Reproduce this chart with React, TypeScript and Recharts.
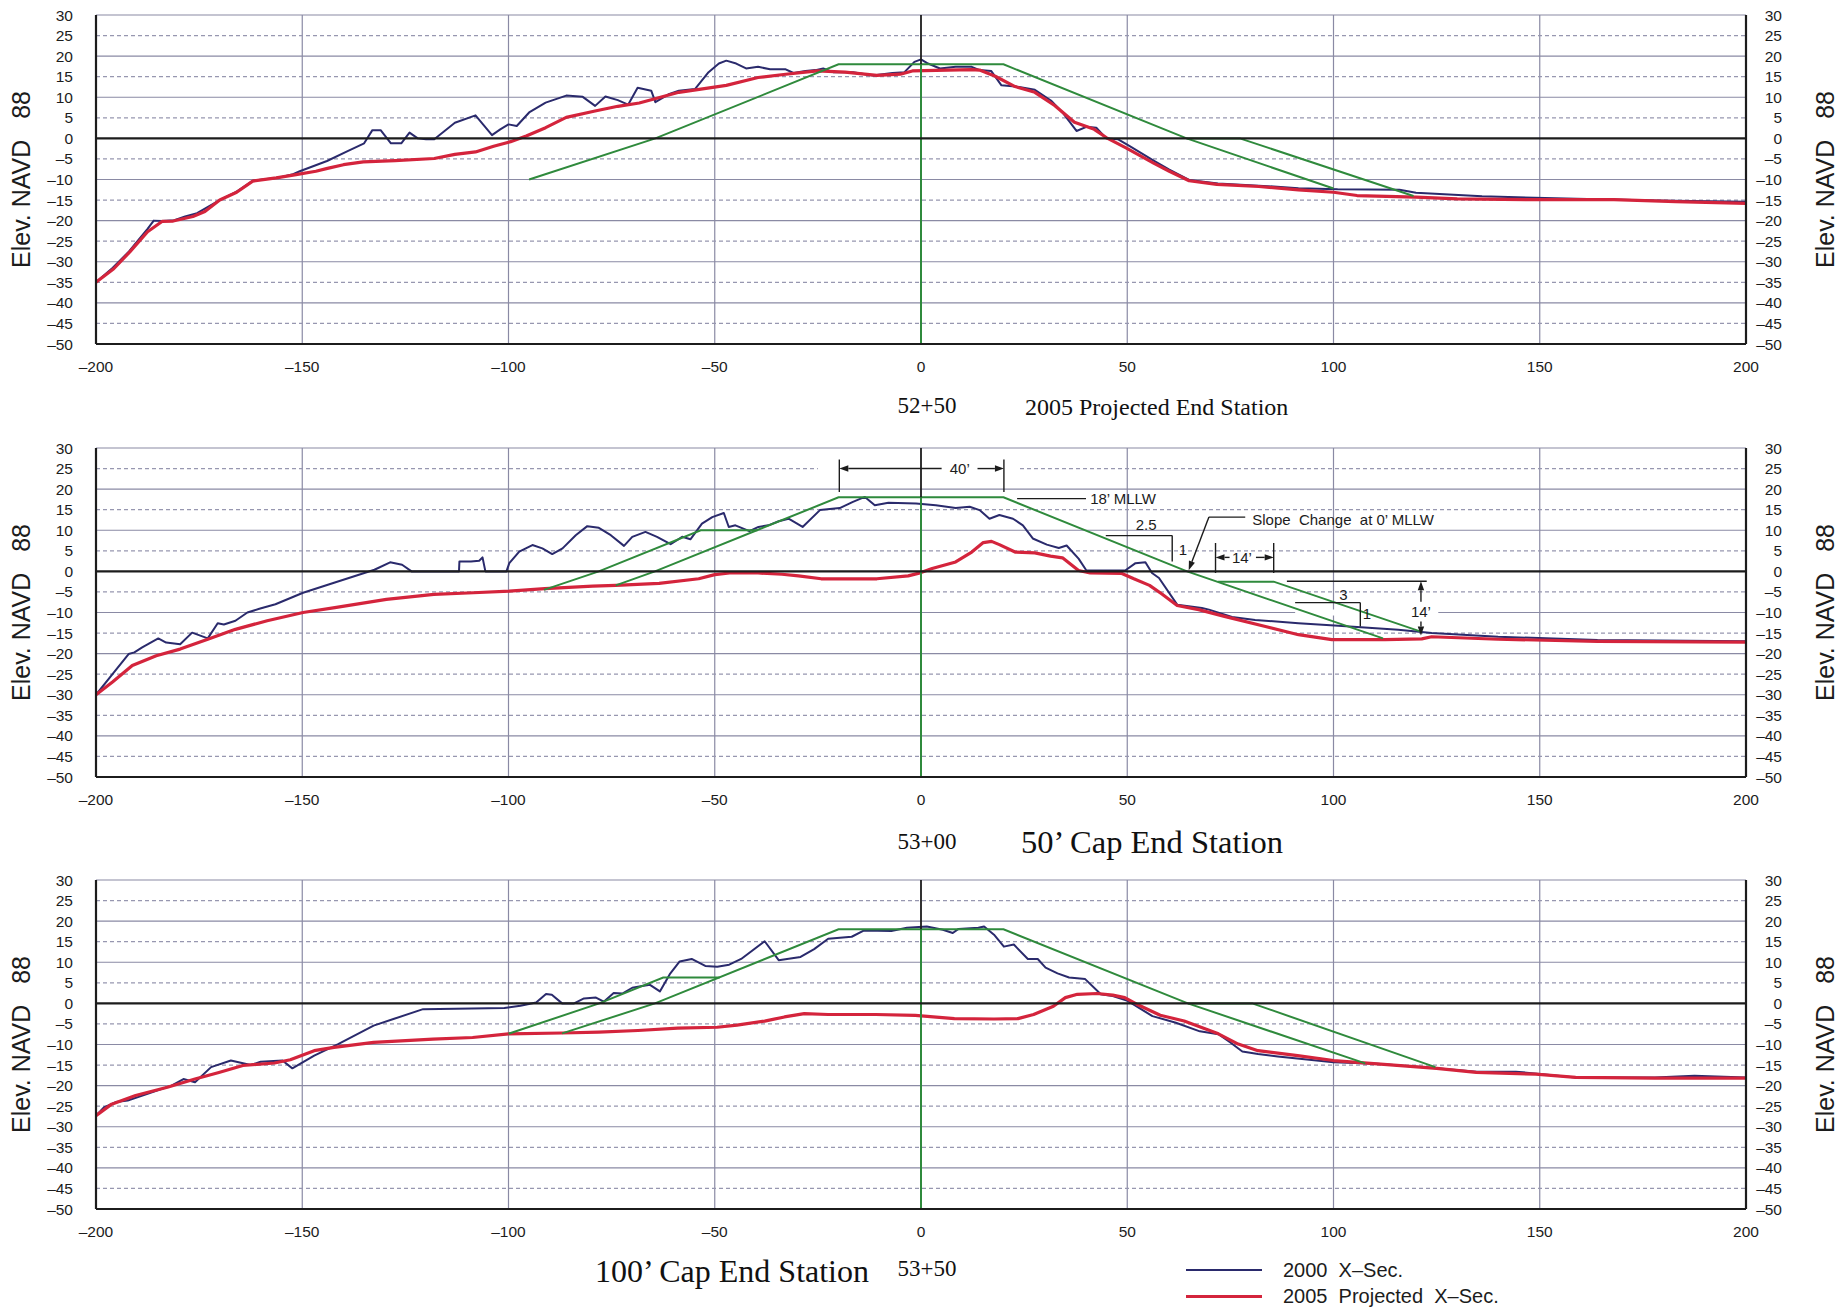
import React from 'react';
import {
  LineChart,
  Line,
  XAxis,
  YAxis,
  CartesianGrid,
  ReferenceLine,
  ReferenceArea,
  ReferenceDot,
} from 'recharts';

type Pt = [number, number];
type Seg = [number, number, number, number];
type Note = { x: number; y: number; text: string; anchor?: 'start' | 'middle' };

// axes
const xTicks = [-200, -150, -100, -50, 0, 50, 100, 150, 200];
const yTicks = [-50, -45, -40, -35, -30, -25, -20, -15, -10, -5, 0, 5, 10, 15, 20, 25, 30];
const solidRows = [-40, -30, -20, -10, 10, 20, 30];
const dashedRows = [-45, -35, -25, -15, -5, 5, 15, 25];
const gridCols = [-150, -100, -50, 50, 100, 150];

// 52+50 — 2005 projected end station
const sec2000_5250: Pt[] = [
  [-200, -35], [-196, -31.5], [-192, -27.5], [-187.5, -22], [-186, -20], [-184, -20.1], [-181, -19.9],
  [-178.4, -19], [-175.5, -18.2], [-170, -15], [-166, -13], [-162, -10.3], [-156, -9.6], [-152.5, -8.8],
  [-150.6, -8], [-144, -5.5], [-139, -3.1], [-135, -1.2], [-133, 2], [-131, 2], [-128.5, -1.2], [-126, -1.2],
  [-124, 1.4], [-122, 0], [-120, -0.2], [-118, -0.2], [-115.5, 1.8], [-113, 3.8], [-108, 5.6], [-104, 0.8],
  [-102, 2.2], [-100, 3.4], [-98, 3], [-95, 6.3], [-91, 8.7], [-86, 10.4], [-82, 10.1], [-79, 7.9],
  [-76.5, 10.2], [-73.5, 9.3], [-71, 8.2], [-68.7, 12.3], [-65.4, 11.6], [-64.4, 8.8], [-61, 10.8],
  [-58.7, 11.6], [-54.8, 12], [-51.5, 16.1], [-49, 18.2], [-47.2, 18.9], [-44.8, 18.2], [-42.4, 17],
  [-39.5, 17.4], [-36.6, 16.8], [-32.8, 16.8], [-30.9, 15.9], [-28, 16.4], [-25.6, 16.6], [-23.7, 17],
  [-21.3, 16.1], [-16.5, 16.1], [-11.7, 15.3], [-6.9, 15.9], [-4, 16.1], [-1.6, 18.6], [0, 19.2],
  [1.7, 18.2], [4.6, 17], [8.4, 17.4], [12.3, 17.4], [14.2, 16.6], [17, 16.4], [19.5, 12.9], [23.8, 12.5],
  [27.6, 11.8], [31.5, 9.2], [34.3, 6.3], [37.7, 1.8], [40.1, 2.8], [42.5, 2.6], [44.9, 0], [47.7, -0.2],
  [50.6, -1.9], [56.4, -5.4], [60.2, -7.6], [65, -10.1], [72, -11], [81.9, -11.5], [91.5, -12.1],
  [101, -12.4], [116, -12.5], [120, -13.2], [136, -14.1], [158.8, -14.7], [178, -15.1], [200, -15.4],
];
const proj2005_5250: Pt[] = [
  [-200, -35], [-195.7, -31.7], [-191.8, -27.6], [-187.5, -22.7], [-184, -20.2], [-181.3, -20.1],
  [-176.5, -19], [-173.6, -17.8], [-170, -15], [-165.9, -13.1], [-162, -10.4], [-156.3, -9.6],
  [-151.5, -8.8], [-146.7, -8], [-143.9, -7.3], [-140, -6.4], [-135.2, -5.7], [-127.5, -5.4], [-118, -4.9],
  [-113, -3.9], [-108, -3.3], [-103.6, -1.9], [-99.5, -0.8], [-95.7, 0.6], [-91, 2.6], [-86, 5.1],
  [-79.3, 6.6], [-73.5, 7.8], [-68.3, 8.6], [-58.7, 11.2], [-47.2, 12.9], [-39.5, 14.8], [-32.8, 15.6],
  [-25.1, 16.4], [-18.4, 16.1], [-10.7, 15.3], [-5, 15.6], [-2.1, 16.4], [12.3, 16.7], [14.2, 16.6],
  [18, 15.1], [22.8, 12.6], [27.6, 11.2], [32.4, 8], [37.2, 3.9], [42, 2.2], [44.9, 0.2], [49.7, -2.3],
  [56.4, -6], [60.2, -8], [65, -10.3], [71.7, -11.2], [81.9, -11.7], [91.5, -12.5], [100, -13.1],
  [105.7, -13.9], [120, -14.3], [130, -14.7], [149, -14.9], [168, -14.9], [183, -15.4], [200, -15.8],
];
const template_5250: Pt[] = [[-95, -10], [-64.4, 0], [-20, 18], [20, 18], [64.4, 0], [100, -12.2]];
const benchR_5250: Pt[] = [[64.4, 0], [77.3, 0], [119.4, -14]];

// 53+00 — 50' cap end station
const sec2000_5300: Pt[] = [
  [-200, -30], [-196, -25], [-192.1, -20.1], [-190.7, -19.7], [-188.8, -18.5], [-184.9, -16.3],
  [-183, -17.3], [-179.6, -17.7], [-176.7, -14.9], [-172.9, -16.3], [-170.5, -12.6], [-169, -12.9],
  [-166.2, -12], [-163.3, -10], [-160.4, -9.1], [-156.5, -8], [-149.8, -5.2], [-142.1, -2.7],
  [-132.5, 0.4], [-128.7, 2.2], [-125.8, 1.6], [-123.5, 0], [-112, 0], [-111.9, 2.4], [-109.1, 2.4],
  [-107.1, 2.6], [-106.3, 3.4], [-105.6, 0], [-100.5, 0], [-99.8, 2], [-97.4, 4.8], [-94.2, 6.4],
  [-91.8, 5.6], [-89.4, 4.2], [-86.9, 5.6], [-83.7, 8.8], [-80.9, 11], [-78.1, 10.6], [-75.2, 8.8],
  [-72, 6.2], [-70, 8.4], [-66.8, 9.6], [-64, 8.4], [-60.7, 6.6], [-57.9, 8.4], [-55.9, 7.8],
  [-53.1, 11.6], [-50.6, 13.2], [-47.8, 14.2], [-46.6, 10.8], [-45, 11.2], [-41.6, 9.8], [-39.4, 10.8],
  [-37, 11.2], [-34.5, 12.2], [-32.1, 12.8], [-28.7, 10.8], [-24.5, 14.9], [-19.7, 15.4], [-16.5, 16.9],
  [-13.6, 18.1], [-11.2, 16.1], [-7.9, 16.7], [-1.2, 16.5], [3.6, 16.1], [8.4, 15.4], [11.8, 15.7],
  [14.2, 14.9], [16.6, 12.8], [19, 13.7], [22.3, 12.8], [24.7, 11.2], [27.1, 8], [30.5, 6.5],
  [33.4, 5.7], [35.3, 6.3], [38.2, 3.1], [40.1, 0.2], [49.5, 0.2], [52, 2], [54.4, 2.2], [56, -0.4],
  [57.7, -1.6], [62.1, -8.1], [68.1, -8.9], [69.8, -9.3], [75.4, -11.1], [81, -11.8], [91.5, -12.6],
  [101.2, -13.2], [115.7, -14.2], [123.8, -15], [139.9, -15.9], [164, -16.7], [200, -17],
];
const proj2005_5300: Pt[] = [
  [-200, -30], [-196, -26.9], [-191.2, -22.9], [-185.4, -20.5], [-179.6, -18.9], [-172.9, -16.5],
  [-166.2, -14.1], [-158.5, -12], [-149.8, -10], [-142.1, -8.8], [-129.6, -6.8], [-118.1, -5.6],
  [-108.5, -5.2], [-99.8, -4.8], [-91.2, -4.2], [-79.6, -3.6], [-74, -3.4], [-63.5, -2.9], [-53.9, -1.8],
  [-50, -0.8], [-46.4, -0.4], [-39.5, -0.4], [-33.7, -0.7], [-29.7, -1.1], [-24.2, -1.8], [-10.7, -1.8],
  [-3.1, -1.1], [0, -0.3], [2.7, 0.7], [8.4, 2.3], [12.3, 4.7], [15.1, 7], [17.1, 7.3], [19, 6.5],
  [22.8, 4.7], [27.6, 4.5], [31.4, 3.7], [34.3, 3.3], [38.2, 0.2], [41, -0.4], [48.7, -0.5], [51.6, -1.8],
  [55.4, -3.4], [58.4, -5.5], [62.1, -8.3], [67.3, -9.3], [73.8, -11], [83.5, -13.4], [91.5, -15.4],
  [99.6, -16.6], [112.5, -16.6], [121.4, -16.4], [123.8, -15.9], [139.9, -16.5], [164, -17], [200, -17.2],
];
const template_5300: Pt[] = [[-74, -3.4], [-64.5, 0], [-20, 18], [20, 18], [64.5, 0], [112, -16.3]];
const benchL_5300: Pt[] = [[-91.4, -4.5], [-78.1, 0], [-53.4, 10], [-39.6, 10]];
const benchR_5300: Pt[] = [[72, -2.5], [85.5, -2.5], [121, -14.6]];

// 53+50 — 100' cap end station
const sec2000_5350: Pt[] = [
  [-200, -27.3], [-198.1, -25.3], [-195.2, -24], [-192.3, -23.6], [-187.5, -22], [-181.7, -20],
  [-178.8, -18.4], [-176, -19.2], [-172.1, -15.5], [-167.3, -13.9], [-162.5, -15], [-160.1, -14.2],
  [-154.8, -13.9], [-152.4, -15.8], [-147.1, -12.7], [-141.3, -9.9], [-132.7, -5.4], [-127.9, -3.8],
  [-120.7, -1.4], [-101, -1.1], [-97.1, -0.6], [-93.3, 0.2], [-90.9, 2.3], [-89.5, 2.1], [-87, 0],
  [-84.1, 0], [-81.7, 1.2], [-78.8, 1.4], [-76.9, 0.4], [-74.5, 2.5], [-72.4, 2.4], [-70, 3.8],
  [-67.6, 4.2], [-65.7, 4.5], [-63.3, 2.9], [-60.9, 7.1], [-58.5, 10.2], [-55.6, 10.8], [-52.3, 9.1],
  [-49.4, 8.9], [-46.5, 9.4], [-43.6, 10.8], [-37.9, 15.1], [-34.5, 10.5], [-29.2, 11.3], [-25.9, 13.2],
  [-22.5, 15.7], [-16.8, 16.2], [-13.9, 17.7], [-7.2, 17.6], [-3.4, 18.4], [1.4, 18.7], [5.3, 17.9],
  [7.7, 17.1], [9.1, 18.1], [13.9, 18.4], [15.3, 18.7], [17.7, 16.7], [20.1, 13.8], [22.5, 14.3],
  [25.9, 10.8], [28.3, 10.8], [30.2, 8.7], [33.1, 7.3], [35.9, 6.3], [39.8, 5.9], [43.6, 2.2],
  [46.5, 1.8], [50.1, 0.6], [56.1, -3.1], [61.8, -4.7], [67.6, -6.8], [72.1, -7.5], [75, -9.5],
  [77.9, -11.7], [81.7, -12.3], [86.5, -12.9], [100, -14.3], [110.6, -14.7], [125, -15.8], [134.6, -16.6],
  [144.2, -16.6], [158.7, -18], [177.9, -18], [187.5, -17.6], [200, -18],
];
const proj2005_5350: Pt[] = [
  [-200, -27.3], [-196.2, -24.5], [-190.4, -22.4], [-182.7, -20.4], [-176, -18.4], [-170.2, -16.8],
  [-164.4, -15.1], [-156.7, -14.5], [-152.9, -13.7], [-147.1, -11.5], [-142.3, -10.7], [-132.7, -9.5],
  [-118.3, -8.7], [-108.7, -8.3], [-100, -7.4], [-87, -7.2], [-78.1, -7], [-68.6, -6.6], [-59, -6],
  [-49.4, -5.8], [-44.6, -5.3], [-37.9, -4.3], [-33.1, -3.3], [-28.3, -2.5], [-22.5, -2.7], [-11, -2.7],
  [-1.4, -2.9], [8.1, -3.7], [17.7, -3.8], [23.5, -3.7], [27.3, -2.7], [32.1, -0.7], [35, 1.4],
  [37.9, 2.2], [42.7, 2.4], [46.5, 2], [49.4, 1.4], [52.3, -0.2], [58, -2.9], [63.8, -4.3], [69.5, -6.4],
  [72.1, -7.4], [76.9, -9.9], [81.7, -11.5], [91.3, -12.7], [100, -13.9], [110.6, -14.7], [125, -15.8],
  [134.6, -16.8], [149, -17.2], [158.7, -18], [177.9, -18.2], [200, -18.2],
];
const template_5350: Pt[] = [[-87, -7.3], [-64.5, 0], [-20, 18], [20, 18], [64.7, 0], [107.7, -14.6]];
const benchL_5350: Pt[] = [[-100, -7.4], [-78, 0], [-62.5, 6.3], [-48.8, 6.3]];
const benchR_5350: Pt[] = [[64.7, 0], [80.3, 0], [124.7, -15.5]];

// centreline of the cap, shared by all three stations
const centreline: Pt[] = [[0, 18], [0, -50]];

// 53+00 dimensioning
const capLeaders: Seg[] = [
  [-19.8, 19.3, -19.8, 27.2],
  [20.1, 19.3, 20.1, 27.2],
  [23.3, 17.7, 40, 17.7],
  [44.8, 8.7, 60.9, 8.7],
  [60.9, 8.7, 60.9, 2.4],
  [78.6, 13.2, 69.8, 13.2],
  [71.4, 6.9, 71.4, -0.4],
  [85.5, 6.9, 85.5, -0.4],
  [88.7, -2.4, 122.6, -2.4],
  [90.7, -7.6, 106.5, -7.6],
  [106.5, -7.6, 106.5, -13.4],
];
const capArrows: Seg[] = [
  [5, 25, -19.8, 25],
  [13.7, 25, 20.1, 25],
  [69.8, 13.2, 64.9, 0.3],
  [74.8, 3.4, 71.4, 3.4],
  [81.2, 3.4, 85.5, 3.4],
  [121.2, -7.4, 121.2, -2.4],
  [121.2, -12.2, 121.2, -15.6],
];
const capNotes: Note[] = [
  { x: 9.4, y: 25, text: '40’' },
  { x: 41, y: 17.7, text: '18’ MLLW', anchor: 'start' },
  { x: 54.6, y: 11.5, text: '2.5' },
  { x: 63.5, y: 5.3, text: '1' },
  { x: 80.3, y: 12.5, text: 'Slope  Change  at 0’ MLLW', anchor: 'start' },
  { x: 77.8, y: 3.4, text: '14’' },
  { x: 102.4, y: -5.6, text: '3' },
  { x: 108.1, y: -10.2, text: '1' },
  { x: 121.2, y: -9.8, text: '14’' },
];
const capMasks: Seg[] = [
  [-25, 24.2, 24, 25.8],
  [90.7, -10.7, 125.4, -9.3],
];

const NAVY = '#2a2a6c';
const RED = '#d4243c';
const GREEN = '#2f8a3c';
const INK = '#1c1c1c';
const GRID = '#8a8aa4';
const SANS = '"Liberation Sans", Arial, Helvetica, sans-serif';
const SERIF = '"Liberation Serif", "Times New Roman", serif';

const W = 1841;
const PLOT_LEFT = 96;
const PLOT_RIGHT = 1746;
const PLOT_H = 329;
const PAD_TOP = 10;
const AXIS_H = 46;

const rows = (pts: Pt[]) => pts.map(([x, y]) => ({ x, y }));
const dash = (v: number) => String(v).replace('-', '–');

const LeftTick = (p: any) => (
  <text x={PLOT_LEFT - 23} y={p.y} textAnchor="end" dominantBaseline="central" fontSize={15.5} fontFamily={SANS} fill={INK}>
    {dash(p.payload.value)}
  </text>
);
const RightTick = (p: any) => (
  <text x={1782} y={p.y} textAnchor="end" dominantBaseline="central" fontSize={15.5} fontFamily={SANS} fill={INK}>
    {dash(p.payload.value)}
  </text>
);
const BottomTick = (p: any) => (
  <text x={p.x} y={PAD_TOP + PLOT_H + 22} textAnchor="middle" dominantBaseline="central" fontSize={15.5} fontFamily={SANS} fill={INK}>
    {dash(p.payload.value)}
  </text>
);

const ElevLabel = ({ cx }: { cx: number }) => {
  const cy = PAD_TOP + PLOT_H / 2;
  return (
    <text
      x={cx}
      y={cy}
      transform={`rotate(-90 ${cx} ${cy})`}
      textAnchor="middle"
      dominantBaseline="central"
      fontSize={25}
      fontFamily={SANS}
      fill={INK}
      style={{ whiteSpace: 'pre' }}
    >
      {'Elev. NAVD   88'}
    </text>
  );
};

const arrowShape = (p: any) => {
  const { x1, y1, x2, y2 } = p;
  const a = Math.atan2(y2 - y1, x2 - x1);
  const len = 9;
  const half = 3.2;
  const bx = x2 - len * Math.cos(a);
  const by = y2 - len * Math.sin(a);
  const nx = -Math.sin(a) * half;
  const ny = Math.cos(a) * half;
  return (
    <g>
      <line x1={x1} y1={y1} x2={bx} y2={by} stroke={INK} strokeWidth={1.4} />
      <polygon points={`${x2},${y2} ${bx + nx},${by + ny} ${bx - nx},${by - ny}`} fill={INK} />
    </g>
  );
};

type SectionProps = {
  top: number;
  sec2000: Pt[];
  proj2005: Pt[];
  design: Pt[][];
  leaders?: Seg[];
  arrows?: Seg[];
  notes?: Note[];
  masks?: Seg[];
};

function Section({ top, sec2000, proj2005, design, leaders = [], arrows = [], notes = [], masks = [] }: SectionProps) {
  return (
    <div style={{ position: 'absolute', left: 0, top: top - PAD_TOP }}>
      <LineChart width={W} height={PAD_TOP + PLOT_H + AXIS_H} margin={{ top: PAD_TOP, right: 0, bottom: 0, left: 0 }}>
        <CartesianGrid horizontalValues={solidRows} verticalValues={gridCols} stroke={GRID} strokeWidth={1.2} />
        <CartesianGrid horizontalValues={dashedRows} vertical={false} stroke="#9797b0" strokeWidth={1.2} strokeDasharray="4 3" />
        <XAxis
          type="number"
          dataKey="x"
          domain={[-200, 200]}
          ticks={xTicks}
          interval={0}
          height={AXIS_H}
          tickLine={false}
          axisLine={{ stroke: INK, strokeWidth: 2.2 }}
          tick={BottomTick}
        />
        <YAxis
          type="number"
          domain={[-50, 30]}
          ticks={yTicks}
          interval={0}
          width={PLOT_LEFT}
          tickLine={false}
          axisLine={{ stroke: INK, strokeWidth: 2.2 }}
          tick={LeftTick}
          label={<ElevLabel cx={21} />}
        />
        <YAxis
          yAxisId="r"
          orientation="right"
          type="number"
          domain={[-50, 30]}
          ticks={yTicks}
          interval={0}
          width={W - PLOT_RIGHT}
          tickLine={false}
          axisLine={{ stroke: INK, strokeWidth: 2.2 }}
          tick={RightTick}
          label={<ElevLabel cx={1825} />}
        />
        {masks.map(([x1, y1, x2, y2], i) => (
          <ReferenceArea key={`m${i}`} x1={x1} x2={x2} y1={y1} y2={y2} fill="#ffffff" fillOpacity={1} stroke="none" />
        ))}
        <Line data={rows(sec2000)} dataKey="y" type="linear" stroke={NAVY} strokeWidth={2} dot={false} activeDot={false} isAnimationActive={false} strokeLinejoin="round" />
        <Line data={rows(proj2005)} dataKey="y" type="linear" stroke={RED} strokeWidth={3.2} dot={false} activeDot={false} isAnimationActive={false} strokeLinejoin="round" />
        {design.map((d, i) => (
          <Line key={`d${i}`} data={rows(d)} dataKey="y" type="linear" stroke={GREEN} strokeWidth={2} dot={false} activeDot={false} isAnimationActive={false} />
        ))}
        <Line yAxisId="r" data={rows(centreline)} dataKey="y" type="linear" stroke={GREEN} strokeWidth={2} dot={false} activeDot={false} isAnimationActive={false} />
        <ReferenceLine y={0} stroke={INK} strokeWidth={2.4} />
        <ReferenceLine segment={[{ x: 0, y: 30 }, { x: 0, y: 18 }]} stroke={INK} strokeWidth={1.8} />
        {leaders.map(([x1, y1, x2, y2], i) => (
          <ReferenceLine key={`l${i}`} segment={[{ x: x1, y: y1 }, { x: x2, y: y2 }]} stroke={INK} strokeWidth={1.4} />
        ))}
        {arrows.map(([x1, y1, x2, y2], i) => (
          <ReferenceLine key={`a${i}`} segment={[{ x: x1, y: y1 }, { x: x2, y: y2 }]} stroke={INK} shape={arrowShape} />
        ))}
        {notes.map((n, i) => (
          <ReferenceDot
            key={`n${i}`}
            x={n.x}
            y={n.y}
            r={0}
            shape={(p: any) => (
              <text
                x={p.cx}
                y={p.cy}
                textAnchor={n.anchor ?? 'middle'}
                dominantBaseline="central"
                fontSize={15}
                fontFamily={SANS}
                fill={INK}
                style={{ whiteSpace: 'pre' }}
              >
                {n.text}
              </text>
            )}
          />
        ))}
      </LineChart>
    </div>
  );
}

const caption = (left: number, top: number, size: number, text: string, align: 'left' | 'center' | 'right') => {
  const tx = align === 'center' ? '-50%' : align === 'right' ? '-100%' : '0';
  return (
    <div
      style={{
        position: 'absolute',
        left,
        top,
        transform: `translate(${tx}, -50%)`,
        fontFamily: SERIF,
        fontSize: size,
        color: '#111',
        whiteSpace: 'nowrap',
        lineHeight: 1,
      }}
    >
      {text}
    </div>
  );
};

export default function App() {
  return (
    <div style={{ position: 'absolute', left: 0, top: 0, width: W, height: 1308, background: '#ffffff', overflow: 'hidden' }}>
      <Section top={15} sec2000={sec2000_5250} proj2005={proj2005_5250} design={[template_5250, benchR_5250]} />
      <Section
        top={448}
        sec2000={sec2000_5300}
        proj2005={proj2005_5300}
        design={[template_5300, benchL_5300, benchR_5300]}
        leaders={capLeaders}
        arrows={capArrows}
        notes={capNotes}
        masks={capMasks}
      />
      <Section top={880} sec2000={sec2000_5350} proj2005={proj2005_5350} design={[template_5350, benchL_5350, benchR_5350]} />

      {caption(927, 405, 23, '52+50', 'center')}
      {caption(1025, 407, 24, '2005 Projected End Station', 'left')}
      {caption(927, 841, 23, '53+00', 'center')}
      {caption(1021, 842, 32.5, '50’ Cap End Station', 'left')}
      {caption(869, 1271, 32, '100’ Cap End Station', 'right')}
      {caption(927, 1268, 23, '53+50', 'center')}

      <div style={{ position: 'absolute', left: 1186, top: 1257, fontFamily: SANS, fontSize: 20, color: INK, lineHeight: '26px' }}>
        <div style={{ display: 'flex', alignItems: 'center', whiteSpace: 'pre' }}>
          <span style={{ display: 'inline-block', width: 76, borderTop: `2px solid ${NAVY}`, marginRight: 21 }} />
          {'2000  X–Sec.'}
        </div>
        <div style={{ display: 'flex', alignItems: 'center', whiteSpace: 'pre' }}>
          <span style={{ display: 'inline-block', width: 76, borderTop: `3px solid ${RED}`, marginRight: 21 }} />
          {'2005  Projected  X–Sec.'}
        </div>
      </div>
    </div>
  );
}
